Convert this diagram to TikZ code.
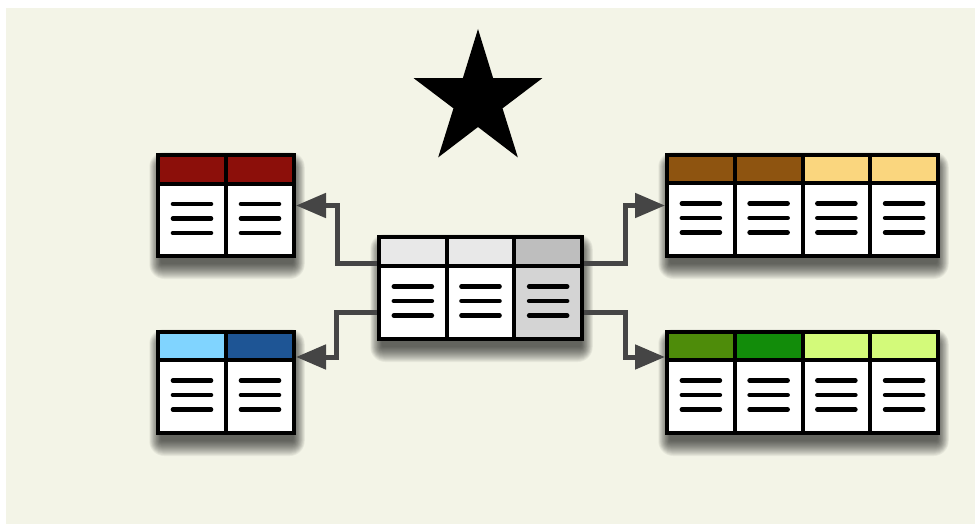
\documentclass[tikz,border=0pt]{standalone}
\usetikzlibrary{arrows.meta}

\definecolor{bgcol}{HTML}{F3F4E7}
\definecolor{connc}{HTML}{454545}
\definecolor{hdred}{HTML}{8C0F0A}
\definecolor{hdskyblue}{HTML}{80D4FF}
\definecolor{hdnavy}{HTML}{1E5595}
\definecolor{hdbrown}{HTML}{8E5410}
\definecolor{hdsand}{HTML}{FAD67E}
\definecolor{hdolive}{HTML}{4E8C0A}
\definecolor{hdgreen}{HTML}{128C0A}
\definecolor{hdlime}{HTML}{D3FA7A}
\definecolor{hdpale}{HTML}{E8E8E8}
\definecolor{hdgrey}{HTML}{BEBEBE}
\definecolor{bdgrey}{HTML}{D4D4D4}

\tikzset{
  tablebox/.style={rectangle, draw=black, fill=white, line width=4pt, inner sep=0pt},
  divider/.style={draw=black, line width=4pt},
  rowbar/.style={draw=black, line width=4.6pt, line cap=round},
  conn/.style={draw=connc, line width=5pt, line join=miter,
    -{Triangle[length=30pt,width=24pt]}},
}

% #1 name, #2 x1, #3 y1, #4 x2, #5 y2 (border centre line),
% #6 header rule y, #7 columns, #8 header colours, #9 body colours
\newcommand{\dbtable}[9]{%
  \pgfmathsetmacro{\dbW}{#4-(#2)}%
  \pgfmathsetmacro{\dbH}{#5-(#3)}%
  \pgfmathsetmacro{\dbC}{\dbW/#7}%
  \pgfmathsetmacro{\dbY}{(#6+#5)/2-1.5}%
  % soft drop shadow, built from stacked translucent rounded layers
  \foreach \k in {0,...,15}{%
    \pgfmathsetmacro{\dbE}{13-\k}%
    \pgfmathsetmacro{\dbR}{max(\dbE,0)+2}%
    \fill[black,opacity=0.05,rounded corners=\dbR pt]
      ({#2-0.75*\dbE+1},{#3-\dbE+10}) rectangle ({#4+0.75*\dbE+1},{#5+\dbE+10});
  }%
  \node[tablebox, minimum width=\dbW pt, minimum height=\dbH pt] (#1) at ({(#2+#4)/2},{(#3+#5)/2}) {};
  \foreach \hc [count=\i from 0] in {#8}{%
    \pgfmathsetmacro{\dbA}{#2+\i*\dbC}%
    \fill[\hc] ({\dbA+2},{#3+2}) rectangle ({\dbA+\dbC-2},{#6});
  }%
  \foreach \bc [count=\i from 0] in {#9}{%
    \pgfmathsetmacro{\dbA}{#2+\i*\dbC}%
    \fill[\bc] ({\dbA+2},{#6}) rectangle ({\dbA+\dbC-2},{#5-2});
    \pgfmathsetmacro{\dbM}{\dbA+\dbC/2}%
    \foreach \dy in {-14.5,0,14.5}{%
      \draw[rowbar] ({\dbM-19},{\dbY+\dy}) -- ({\dbM+19},{\dbY+\dy});
    }%
  }%
  \draw[divider] (#2,#6) -- (#4,#6);
  \foreach \i in {1,...,\numexpr#7-1\relax}{%
    \draw[divider] ({#2+\i*\dbC},#3) -- ({#2+\i*\dbC},#5);
  }%
}

\begin{document}
\begin{tikzpicture}[x=1pt,y=-1pt]
  \useasboundingbox (0,0) rectangle (975,524);
  \fill[bgcol] (6,8) rectangle (975,524);

  % star
  \coordinate (starc) at (478,100);
  \begin{scope}[shift={(starc)}, x=0.955pt, y=1pt]
    \fill[black] (90:71) -- (126:27) -- (162:71) -- (198:27) -- (234:71)
      -- (270:27) -- (306:71) -- (342:27) -- (18:71) -- (54:27) -- cycle;
  \end{scope}

  % tables
  \dbtable{tl}{158}{155}{294}{256}{184}{2}{hdred,hdred}{white,white}
  \dbtable{bl}{158}{332}{294}{433}{360}{2}{hdskyblue,hdnavy}{white,white}
  \dbtable{tr}{667}{155}{938}{256}{183}{4}{hdbrown,hdbrown,hdsand,hdsand}{white,white,white,white}
  \dbtable{br}{667}{332}{938}{433}{360}{4}{hdolive,hdgreen,hdlime,hdlime}{white,white,white,white}
  \dbtable{ct}{379}{237}{582}{339}{266}{3}{hdpale,hdpale,hdgrey}{white,white,bdgrey}

  % connectors
  \draw[conn] (ct.west |- 0,263) -- (337,263) |- (tl.east);
  \draw[conn] (ct.west |- 0,312) -- (336,312) |- (bl.east |- 0,357);
  \draw[conn] (ct.east |- 0,263) -- (625,263) |- (tr.west);
  \draw[conn] (ct.east |- 0,312) -- (625,312) |- (br.west |- 0,357);
\end{tikzpicture}
\end{document}
